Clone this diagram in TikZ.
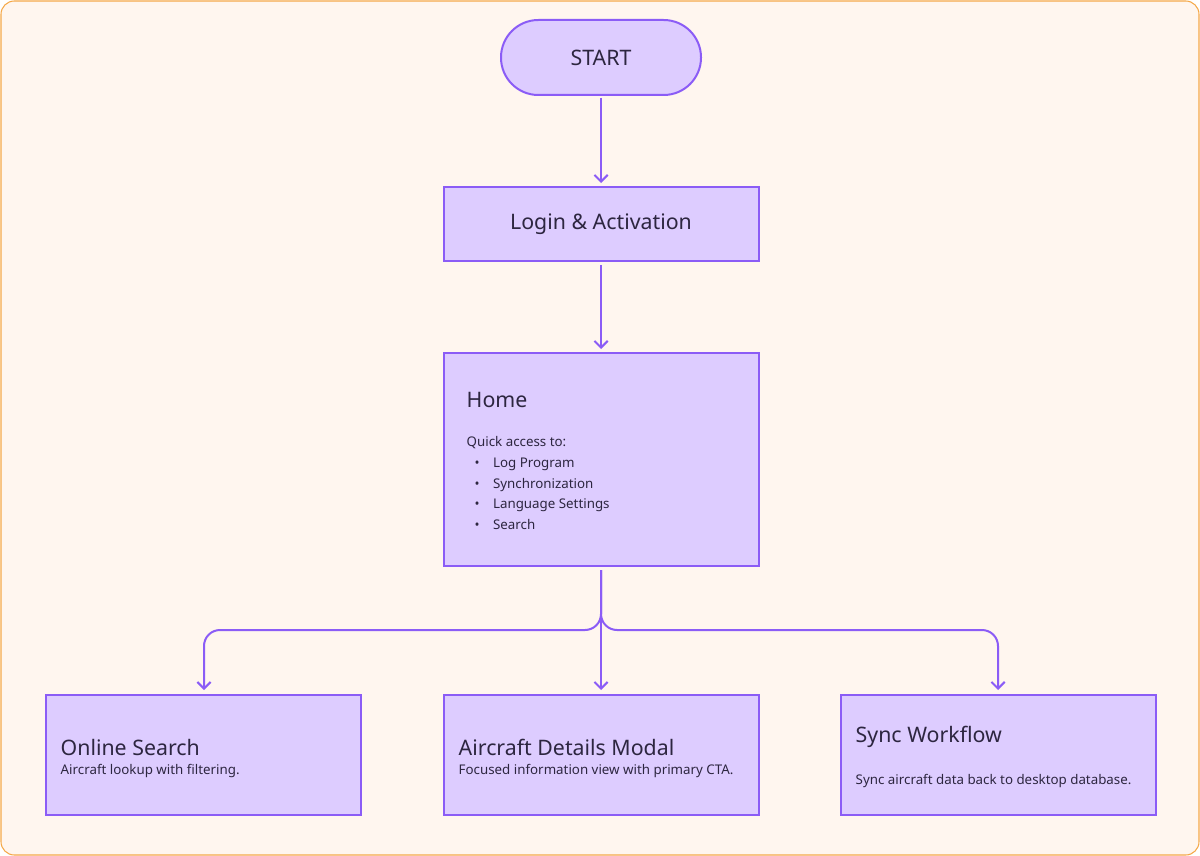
\documentclass[tikz,border=0pt]{standalone}
\usepackage{fontspec}
\setmainfont{Noto Sans}
\usetikzlibrary{arrows.meta}
\definecolor{bg}{HTML}{FFF6EF}
\definecolor{bd}{HTML}{F5A94A}
\definecolor{pf}{HTML}{DDCCFF}
\definecolor{pl}{HTML}{8B5CF6}
\definecolor{tx}{HTML}{2D2640}
\begin{document}
\begin{tikzpicture}[x=0.75pt,y=-0.75pt,
  box/.style={draw=pl,fill=pf,line width=1.5pt,text=tx},
  arr/.style={draw=pl,line width=1.5pt,-{Straight Barb[length=5pt,width=10pt]},rounded corners=12pt},
  big/.style={font=\fontsize{16}{19}\selectfont,text=tx},
  sm/.style={font=\fontsize{10}{15.5}\selectfont,text=tx}]
\useasboundingbox (0,0) rectangle (1200,856);
\draw[fill=bg,draw=bd,line width=0.8pt,rounded corners=10pt] (1,1) rectangle (1199,855);
% boxes
\draw[box,rounded corners=28pt] (501,20) rectangle (701,95);
\node[big] (start) at (601,58) {START};
\coordinate (startb) at (601,97);
\draw[box] (444,187) rectangle (759,261);
\node[big] (login) at (601,224) {Login \& Activation};
\draw[box] (444,353) rectangle (759,566);
\node[big,anchor=west] (home) at (462,400) {Home};
\node[sm,anchor=north west,align=left] (homet) at (462,432) {Quick access to:\\
\hspace*{6pt}•\hspace{10pt}Log Program\\
\hspace*{6pt}•\hspace{10pt}Synchronization\\
\hspace*{6pt}•\hspace{10pt}Language Settings\\
\hspace*{6pt}•\hspace{10pt}Search};
\draw[box] (46,695) rectangle (361,815);
\node[big,anchor=west] (os) at (56,747) {Online Search};
\node[sm,anchor=west] (ost) at (56,771) {Aircraft lookup with filtering.};
\draw[box] (444,695) rectangle (759,815);
\node[big,anchor=west] (ad) at (454,747) {Aircraft Details Modal};
\node[sm,anchor=west] (adt) at (454,771) {Focused information view with primary CTA.};
\draw[box] (841,695) rectangle (1156,815);
\node[big,anchor=west] (sw) at (851,737) {Sync Workflow};
\node[sm,anchor=west] (swt) at (851,781) {Sync aircraft data back to desktop database.};
% arrows
\coordinate (a1) at (601,98); \coordinate (a1e) at (601,183);
\coordinate (a2) at (601,265); \coordinate (a2e) at (601,349);
\coordinate (h) at (601,570);
\coordinate (l) at (204,690); \coordinate (m) at (601,690); \coordinate (r) at (998,690);
\draw[arr] (a1) -- (a1e);
\draw[arr] (a2) -- (a2e);
\draw[arr] (h) |- (204,630) -- (l);
\draw[arr] (h) |- (998,630) -- (r);
\draw[arr] (h) -- (m);
\end{tikzpicture}
\end{document}
